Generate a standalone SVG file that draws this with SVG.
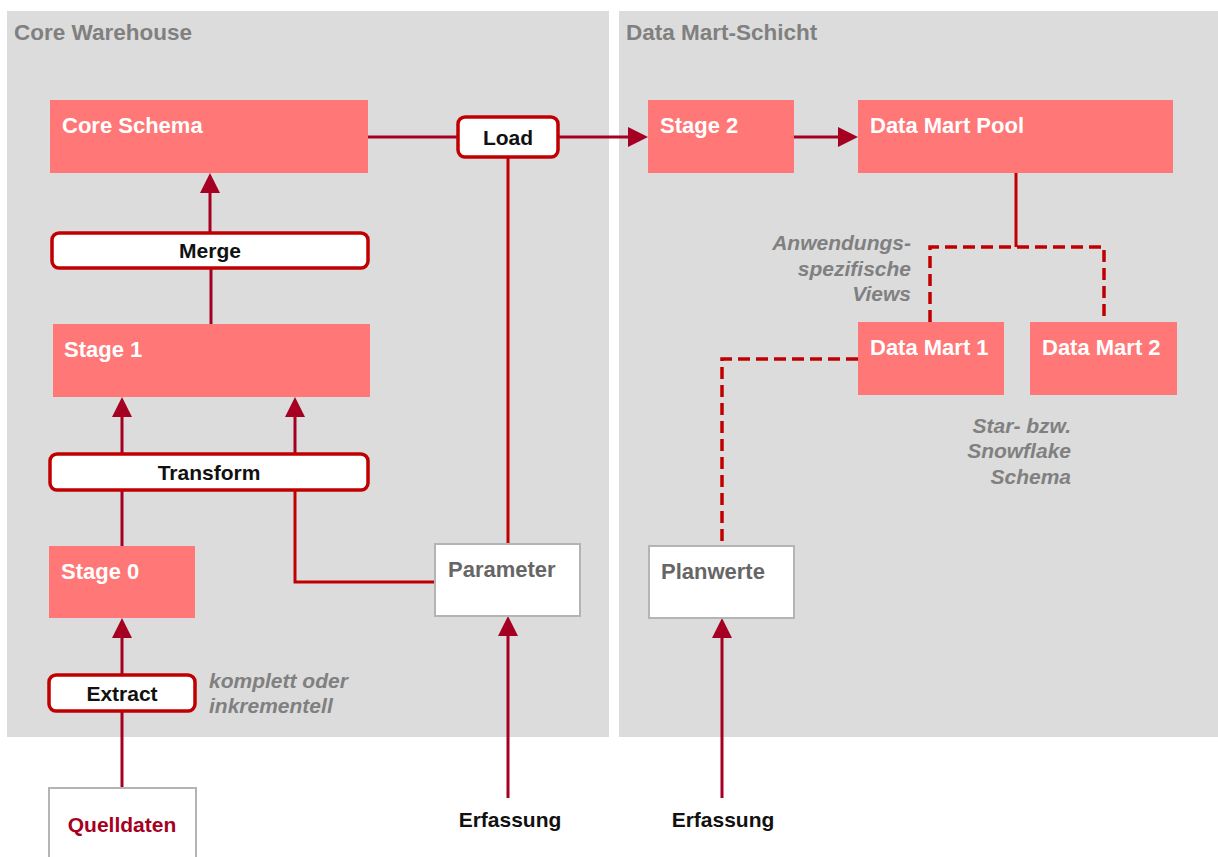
<svg xmlns="http://www.w3.org/2000/svg" width="1218" height="857" viewBox="0 0 1218 857">
<style>
text{font-family:"Liberation Sans",Arial,sans-serif;font-weight:bold}
.panel{fill:#DCDCDC}
.ptitle{fill:#808080;font-size:22.5px}
.box{fill:#FF7777}
.btxt{fill:#FFFFFF;font-size:22px}
.lbl{fill:#FFFFFF;stroke:#C00000;stroke-width:3.5}
.ltxt{fill:#111111;font-size:21px;text-anchor:middle}
.wbox{fill:#FFFFFF;stroke:#B4B4B4;stroke-width:2}
.wtxt{fill:#666666;font-size:22px}
.note{fill:#808080;font-size:21px;font-style:italic}
.ext{fill:#111111;font-size:21px;text-anchor:middle}
.c1{fill:none;stroke:#A50021;stroke-width:3}
.c2{fill:none;stroke:#C00000;stroke-width:3}
.dash{fill:none;stroke:#C00000;stroke-width:3.5;stroke-dasharray:12 6}
</style>
<defs>
<marker id="ah" viewBox="0 0 20 20" markerWidth="20" markerHeight="20" refX="0" refY="10" orient="auto" markerUnits="userSpaceOnUse">
<path d="M0,0 L20,10 L0,20 z" fill="#A50021"/>
</marker>
</defs>
<rect width="1218" height="857" fill="#FFFFFF"/>
<g id="panel-core">
<rect class="panel" x="7" y="11" width="602" height="726"/>
<text class="ptitle" x="14" y="40">Core Warehouse</text>
</g>
<g id="panel-datamart">
<rect class="panel" x="619" y="11" width="599" height="726"/>
<text class="ptitle" x="626" y="40">Data Mart-Schicht</text>
</g>
<g id="connectors">
<line class="c1" x1="368" y1="137" x2="457" y2="137"/>
<line class="c1" x1="558" y1="137" x2="628" y2="137" marker-end="url(#ah)"/>
<line class="c2" x1="508" y1="157" x2="508" y2="544"/>
<line class="c1" x1="794" y1="137" x2="838" y2="137" marker-end="url(#ah)"/>
<line class="c2" x1="1016" y1="173" x2="1016" y2="247"/>
<path class="dash" d="M930,322 V247 H1104 V322"/>
<path class="dash" d="M858,359 H722 V546"/>
<line class="c1" x1="722" y1="798" x2="722" y2="638" marker-end="url(#ah)"/>
<line class="c1" x1="508" y1="798" x2="508" y2="636" marker-end="url(#ah)"/>
<line class="c1" x1="210" y1="232" x2="210" y2="193" marker-end="url(#ah)"/>
<line class="c1" x1="211" y1="324" x2="211" y2="269"/>
<line class="c1" x1="122" y1="453" x2="122" y2="417" marker-end="url(#ah)"/>
<line class="c1" x1="295" y1="453" x2="295" y2="417" marker-end="url(#ah)"/>
<line class="c1" x1="122" y1="546" x2="122" y2="491"/>
<path class="c2" d="M435,582 H295 V491"/>
<line class="c1" x1="122" y1="674" x2="122" y2="638" marker-end="url(#ah)"/>
<line class="c1" x1="122" y1="788" x2="122" y2="712"/>
</g>
<g id="core-schema">
<rect class="box" x="50" y="100" width="318" height="73"/>
<text class="btxt" x="62" y="133">Core Schema</text>
</g>
<g id="load">
<rect class="lbl" x="458" y="117" width="100" height="40" rx="7"/>
<text class="ltxt" x="508" y="145">Load</text>
</g>
<g id="merge">
<rect class="lbl" x="52" y="233" width="316" height="35" rx="7"/>
<text class="ltxt" x="210" y="258">Merge</text>
</g>
<g id="stage1">
<rect class="box" x="53" y="324" width="317" height="73"/>
<text class="btxt" x="64" y="357">Stage 1</text>
</g>
<g id="transform">
<rect class="lbl" x="50" y="454" width="318" height="36" rx="7"/>
<text class="ltxt" x="209" y="480">Transform</text>
</g>
<g id="stage0">
<rect class="box" x="49" y="546" width="146" height="72"/>
<text class="btxt" x="61" y="579">Stage 0</text>
</g>
<g id="parameter">
<rect class="wbox" x="435" y="544" width="145" height="72"/>
<text class="wtxt" x="448" y="577">Parameter</text>
</g>
<g id="extract">
<rect class="lbl" x="49" y="675" width="146" height="36" rx="7"/>
<text class="ltxt" x="122" y="701">Extract</text>
</g>
<g id="note-extract">
<text class="note" x="209" y="688">komplett oder</text>
<text class="note" x="209" y="713">inkrementell</text>
</g>
<g id="quelldaten">
<rect class="wbox" x="49" y="788" width="147" height="80"/>
<text x="122" y="832" font-size="21" fill="#A50021" text-anchor="middle">Quelldaten</text>
</g>
<g id="erfassung1">
<text class="ext" x="510" y="827">Erfassung</text>
</g>
<g id="stage2">
<rect class="box" x="648" y="100" width="146" height="73"/>
<text class="btxt" x="660" y="133">Stage 2</text>
</g>
<g id="data-mart-pool">
<rect class="box" x="858" y="100" width="315" height="73"/>
<text class="btxt" x="870" y="133">Data Mart Pool</text>
</g>
<g id="note-views">
<text class="note" x="911" y="250" text-anchor="end">Anwendungs-</text>
<text class="note" x="911" y="276" text-anchor="end">spezifische</text>
<text class="note" x="911" y="301" text-anchor="end">Views</text>
</g>
<g id="data-mart-1">
<rect class="box" x="858" y="322" width="146" height="73"/>
<text class="btxt" x="870" y="355">Data Mart 1</text>
</g>
<g id="data-mart-2">
<rect class="box" x="1030" y="322" width="147" height="73"/>
<text class="btxt" x="1042" y="355">Data Mart 2</text>
</g>
<g id="note-schema">
<text class="note" x="1071" y="433" text-anchor="end">Star- bzw.</text>
<text class="note" x="1071" y="458" text-anchor="end">Snowflake</text>
<text class="note" x="1071" y="484" text-anchor="end">Schema</text>
</g>
<g id="planwerte">
<rect class="wbox" x="649" y="546" width="145" height="72"/>
<text class="wtxt" x="661" y="579">Planwerte</text>
</g>
<g id="erfassung2">
<text class="ext" x="723" y="827">Erfassung</text>
</g>
</svg>
